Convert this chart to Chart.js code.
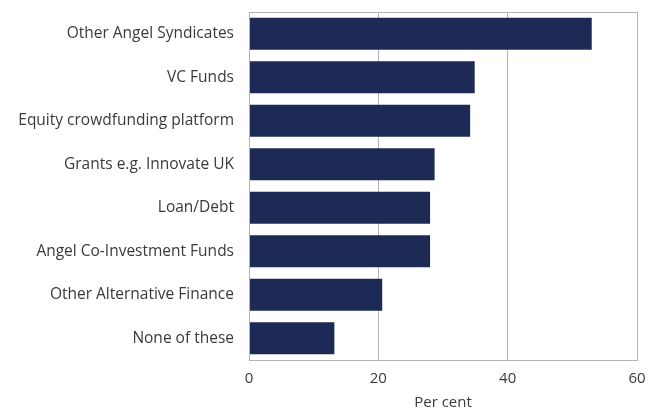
<!DOCTYPE html>
<html>
<head>
<meta charset="utf-8">
<script src="https://cdn.jsdelivr.net/npm/chart.js@4/dist/chart.umd.min.js"></script>
<style>
  html, body { margin: 0; padding: 0; background: #fff; }
  #wrap { width: 659px; height: 412px; }
</style>
</head>
<body>
<div id="wrap"><canvas id="funding-chart" width="659" height="412"></canvas></div>
<script>
const categories = [
  'Other Angel Syndicates',
  'VC Funds',
  'Equity crowdfunding platform',
  'Grants e.g. Innovate UK',
  'Loan/Debt',
  'Angel Co-Investment Funds',
  'Other Alternative Finance',
  'None of these'
];
const percentValues = [53.0, 34.9, 34.2, 28.7, 28.0, 28.0, 20.6, 13.2];
const xTicks = [0, 20, 40, 60];

const gridGrey = '#b3b3b3';
const textGrey = '#3a3a3a';
const fontFamily = "'Open Sans', 'Noto Sans', sans-serif";

// box round the plot area (top edge isn't drawn by the axes)
const frame = {
  id: 'frame',
  afterDraw(chart) {
    const { ctx, chartArea: a } = chart;
    ctx.save();
    ctx.strokeStyle = gridGrey;
    ctx.lineWidth = 1;
    ctx.strokeRect(Math.round(a.left) + 0.5, Math.round(a.top) + 0.5,
      Math.round(a.right - a.left), Math.round(a.bottom - a.top));
    ctx.restore();
  }
};

new Chart(document.getElementById('funding-chart'), {
  type: 'bar',
  data: {
    labels: categories,
    datasets: [{
      data: percentValues,
      backgroundColor: '#1d2a56',
      barPercentage: 0.74,
      categoryPercentage: 1
    }]
  },
  options: {
    indexAxis: 'y',
    responsive: false,
    animation: false,
    layout: { padding: { top: 12, right: 22, bottom: 0, left: 0 } },
    plugins: { legend: { display: false }, tooltip: { enabled: false } },
    scales: {
      x: {
        min: 0,
        max: 60,
        afterBuildTicks(scale) { scale.ticks = xTicks.map(v => ({ value: v })); },
        afterFit(scale) { scale.height = 52; },
        grid: { color: gridGrey, drawTicks: false },
        border: { color: gridGrey },
        ticks: { padding: 10, color: textGrey, font: { family: fontFamily, size: 15 } },
        title: {
          display: true,
          text: 'Per cent',
          color: textGrey,
          padding: { top: 8, bottom: 0 },
          font: { family: fontFamily, size: 15 }
        }
      },
      y: {
        afterFit(scale) {
          scale.width = 249;
          scale.paddingTop = 0;
          scale.paddingBottom = 0;
        },
        grid: { display: false },
        border: { color: gridGrey },
        ticks: { padding: 7, color: textGrey, font: { family: fontFamily, size: 15.5 } }
      }
    }
  },
  plugins: [frame]
});
</script>
</body>
</html>
